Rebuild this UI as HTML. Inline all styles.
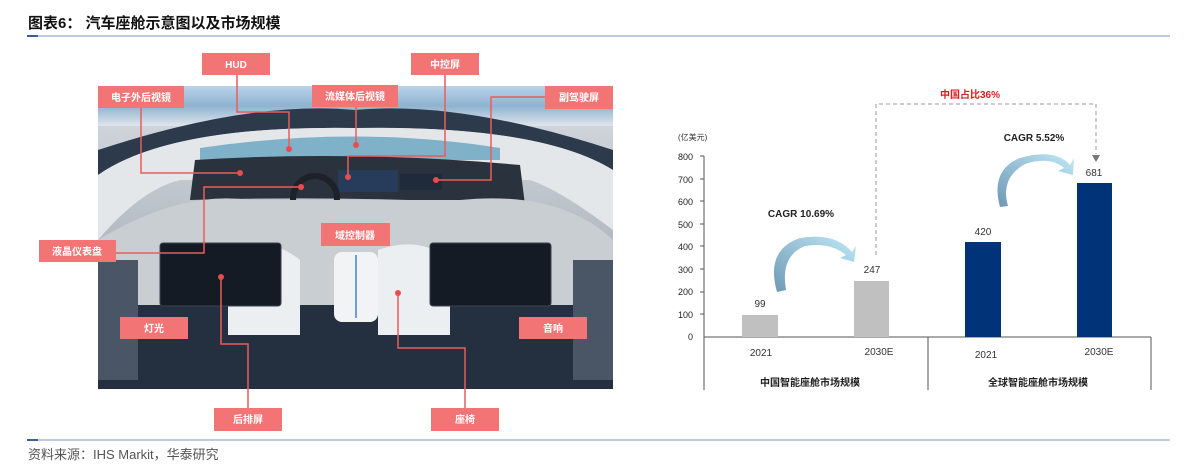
<!DOCTYPE html>
<html><head><meta charset="utf-8"><style>
body{margin:0;background:#fff;width:1195px;height:474px;overflow:hidden}
svg{display:block}
.cn{font-family:"Liberation Sans","Noto Sans CJK SC",sans-serif}
</style></head><body>
<svg width="1195" height="474" xmlns="http://www.w3.org/2000/svg" class="cn">
<defs>
<linearGradient id="sky" x1="0" y1="0" x2="0" y2="1"><stop offset="0" stop-color="#b9d3ea"/><stop offset="0.5" stop-color="#8fb3cf"/><stop offset="1" stop-color="#dfe6ec"/></linearGradient>
<linearGradient id="inter" x1="0" y1="0" x2="0" y2="1"><stop offset="0" stop-color="#d9dde2"/><stop offset="0.5" stop-color="#b4bbc3"/><stop offset="1" stop-color="#2a3340"/></linearGradient>
<linearGradient id="arr" x1="0" y1="1" x2="1" y2="0"><stop offset="0" stop-color="#6f98b5"/><stop offset="1" stop-color="#bfe8f7"/></linearGradient>
</defs>
<text x="28" y="28" font-size="15" font-weight="bold" fill="#111">图表6：  汽车座舱示意图以及市场规模</text>
<line x1="27" y1="36" x2="1170" y2="36" stroke="#7c95c0" stroke-width="1"/>
<line x1="27" y1="36" x2="38" y2="36" stroke="#3c5f99" stroke-width="2"/>
<rect x="98" y="86" width="515" height="303" fill="url(#inter)"/>
<rect x="98" y="86" width="515" height="40" fill="url(#sky)"/>
<path d="M98 150 Q250 100 355 110 Q460 100 613 150 L613 170 Q540 125 355 128 Q170 125 98 175Z" fill="#2c3a4c"/>
<path d="M98 175 Q170 125 355 128 Q540 125 613 170 L613 230 Q560 190 530 180 L180 180 Q140 190 98 240Z" fill="#e4e7ea"/>
<path d="M200 148 Q355 125 500 148 L500 160 L200 160Z" fill="#7fb1c9"/>
<path d="M195 160 Q355 150 520 165 L525 205 Q355 195 190 200Z" fill="#2a323d"/>
<rect x="338" y="170" width="60" height="22" fill="#273c5a"/>
<rect x="400" y="174" width="42" height="16" fill="#1f2b3a"/>
<circle cx="315" cy="198" r="22" fill="none" stroke="#1d2229" stroke-width="6"/>
<path d="M98 240 Q180 190 250 200 L460 200 Q560 190 613 240 L613 389 L98 389Z" fill="#c9ced3"/>
<path d="M98 305 L613 305 L613 389 L98 389Z" fill="#243040"/>
<path d="M228 250 Q270 235 300 260 L300 335 L228 335Z" fill="#eceff1"/>
<path d="M378 250 Q420 235 450 260 L450 335 L378 335Z" fill="#eceff1"/>
<rect x="334" y="252" width="44" height="70" rx="8" fill="#f2f3f4"/>
<line x1="356" y1="255" x2="356" y2="318" stroke="#6da0d0" stroke-width="2"/>
<rect x="160" y="243" width="121" height="63" rx="3" fill="#151b24" stroke="#3a4350"/>
<rect x="430" y="243" width="121" height="63" rx="3" fill="#151b24" stroke="#3a4350"/>
<rect x="98" y="260" width="40" height="120" fill="#4a5666"/>
<rect x="573" y="260" width="40" height="120" fill="#4a5666"/>
<g stroke="#ea5c5c" stroke-width="1.5" fill="none">
<polyline points="237,75 237,112 289,112 289,149"/>
<polyline points="141,108 141,173 240,173"/>
<polyline points="356,107 356,145"/>
<polyline points="445,75 445,156 348,156 348,177"/>
<polyline points="545,97 491,97 491,180 436,180"/>
<polyline points="116,253 204,253 204,187 301,187"/>
<polyline points="221,277 221,344 248,344 248,408"/>
<polyline points="398,293 398,348 465,348 465,408"/>
</g>
<g fill="#ea4c4c">
<circle cx="289" cy="149" r="3"/><circle cx="240" cy="173" r="3"/><circle cx="356" cy="145" r="3"/><circle cx="348" cy="177" r="3"/><circle cx="436" cy="180" r="3"/><circle cx="301" cy="187" r="3"/><circle cx="221" cy="277" r="3"/><circle cx="398" cy="293" r="3"/>
</g>
<g fill="#f27474">
<rect x="202" y="53" width="68" height="22"/><rect x="411" y="53" width="68" height="22"/>
<rect x="98" y="86" width="86" height="22"/><rect x="312" y="85" width="86" height="22"/><rect x="545" y="86" width="68" height="23"/>
<rect x="39" y="240" width="77" height="22"/><rect x="321" y="223" width="69" height="23"/>
<rect x="120" y="317" width="68" height="22"/><rect x="519" y="317" width="68" height="22"/>
<rect x="214" y="408" width="68" height="23"/><rect x="431" y="408" width="68" height="23"/>
</g>
<g fill="#fff" font-size="10" text-anchor="middle" font-weight="bold">
<text x="236" y="68">HUD</text><text x="445" y="68">中控屏</text>
<text x="141" y="101">电子外后视镜</text><text x="355" y="100">流媒体后视镜</text><text x="579" y="101">副驾驶屏</text>
<text x="77" y="255">液晶仪表盘</text><text x="355" y="239">域控制器</text>
<text x="154" y="332">灯光</text><text x="553" y="332">音响</text>
<text x="248" y="423">后排屏</text><text x="465" y="423">座椅</text>
</g>
<text x="678" y="140" font-size="8" fill="#333">(亿美元)</text>
<g font-size="9" fill="#222" text-anchor="end">
<text x="693" y="160">800</text><text x="693" y="183">700</text><text x="693" y="205">600</text><text x="693" y="228">500</text><text x="693" y="250">400</text><text x="693" y="273">300</text><text x="693" y="295">200</text><text x="693" y="318">100</text><text x="693" y="340">0</text>
</g>
<g stroke="#555" stroke-width="1">
<line x1="704" y1="156" x2="704" y2="390"/>
<line x1="704" y1="337" x2="1151" y2="337"/>
<line x1="928" y1="337" x2="928" y2="390"/>
<line x1="1151" y1="337" x2="1151" y2="390"/>
<line x1="700" y1="156" x2="704" y2="156"/><line x1="700" y1="179" x2="704" y2="179"/><line x1="700" y1="201" x2="704" y2="201"/><line x1="700" y1="224" x2="704" y2="224"/><line x1="700" y1="246" x2="704" y2="246"/><line x1="700" y1="269" x2="704" y2="269"/><line x1="700" y1="292" x2="704" y2="292"/><line x1="700" y1="314" x2="704" y2="314"/>
</g>
<rect x="742" y="315" width="36" height="22" fill="#c0c0c0"/>
<rect x="854" y="281" width="35" height="56" fill="#c0c0c0"/>
<rect x="965" y="242" width="36" height="95" fill="#003377"/>
<rect x="1077" y="183" width="35" height="154" fill="#003377"/>
<g font-size="10" fill="#333" text-anchor="middle">
<text x="760" y="307">99</text><text x="872" y="273">247</text><text x="983" y="235">420</text><text x="1094" y="176">681</text>
<text x="761" y="356">2021</text><text x="879" y="355">2030E</text><text x="986" y="358">2021</text><text x="1099" y="355">2030E</text>
</g>
<g font-size="10" font-weight="bold" fill="#222" text-anchor="middle">
<text x="810" y="386">中国智能座舱市场规模</text><text x="1038" y="386">全球智能座舱市场规模</text>
<text x="801" y="217">CAGR 10.69%</text><text x="1034" y="141">CAGR 5.52%</text>
</g>
<text x="970" y="98" font-size="10" font-weight="bold" fill="#d42020" text-anchor="middle">中国占比36%</text>
<polyline points="876,255 876,104 1096,104 1096,154" fill="none" stroke="#999" stroke-width="1" stroke-dasharray="4,3"/>
<polygon points="1092,155 1100,155 1096,162" fill="#777"/>
<path d="M777 292 Q765 250 800 238 Q835 232 852 252 L856 246 L854 262 L840 258 L846 255 Q830 242 805 246 Q780 256 786 290Z" fill="url(#arr)"/>
<path d="M1000 207 Q990 170 1020 158 Q1055 148 1070 165 L1074 158 L1073 175 L1058 171 L1064 168 Q1050 156 1025 164 Q1000 178 1008 206Z" fill="url(#arr)"/>
<line x1="27" y1="440" x2="1170" y2="440" stroke="#7c95c0" stroke-width="1"/>
<line x1="27" y1="440" x2="38" y2="440" stroke="#3c5f99" stroke-width="2"/>
<text x="28" y="459" font-size="13" fill="#555">资料来源：IHS Markit，华泰研究</text>
</svg>
</body></html>
